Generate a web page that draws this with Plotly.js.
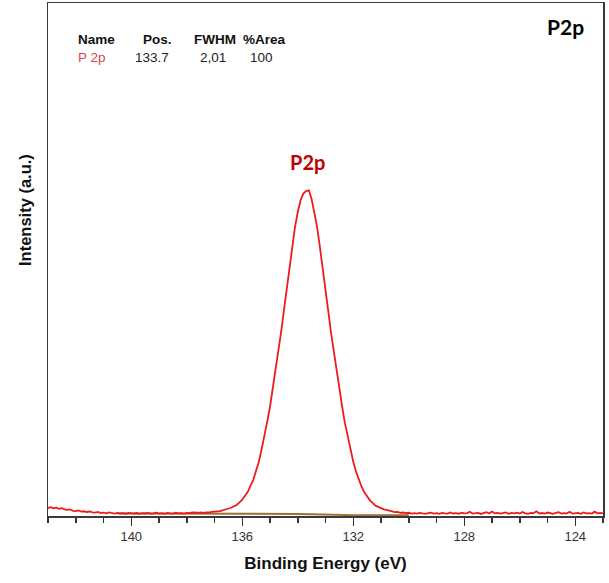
<!DOCTYPE html>
<html>
<head>
<meta charset="utf-8">
<script src="https://cdn.plot.ly/plotly-3.0.1.min.js"></script>
<style>html,body{margin:0;padding:0;background:#fff;}#chart{width:609px;height:583px;}</style>
</head>
<body>
<div id="chart"></div>
<script>
// Binding energy grid (eV)
const bindingEnergy = [
143.0,142.9,142.8,142.7,142.6,142.5,142.4,142.3,142.2,142.1,
142.0,141.9,141.8,141.7,141.6,141.5,141.4,141.3,141.2,141.1,
141.0,140.9,140.8,140.7,140.6,140.5,140.4,140.3,140.2,140.1,
140.0,139.9,139.8,139.7,139.6,139.5,139.4,139.3,139.2,139.1,
139.0,138.9,138.8,138.7,138.6,138.5,138.4,138.3,138.2,138.1,
138.0,137.9,137.8,137.7,137.6,137.5,137.4,137.3,137.2,137.1,
137.0,136.9,136.8,136.7,136.6,136.5,136.4,136.3,136.2,136.1,
136.0,135.9,135.8,135.7,135.6,135.5,135.4,135.3,135.2,135.1,
135.0,134.9,134.8,134.7,134.6,134.5,134.4,134.3,134.2,134.1,
134.0,133.9,133.8,133.7,133.6,133.5,133.4,133.3,133.2,133.1,
133.0,132.9,132.8,132.7,132.6,132.5,132.4,132.3,132.2,132.1,
132.0,131.9,131.8,131.7,131.6,131.5,131.4,131.3,131.2,131.1,
131.0,130.9,130.8,130.7,130.6,130.5,130.4,130.3,130.2,130.1,
130.0,129.9,129.8,129.7,129.6,129.5,129.4,129.3,129.2,129.1,
129.0,128.9,128.8,128.7,128.6,128.5,128.4,128.3,128.2,128.1,
128.0,127.9,127.8,127.7,127.6,127.5,127.4,127.3,127.2,127.1,
127.0,126.9,126.8,126.7,126.6,126.5,126.4,126.3,126.2,126.1,
126.0,125.9,125.8,125.7,125.6,125.5,125.4,125.3,125.2,125.1,
125.0,124.9,124.8,124.7,124.6,124.5,124.4,124.3,124.2,124.1,
124.0,123.9,123.8,123.7,123.6,123.5,123.4,123.3,123.2,123.1,
123.0
];
// Measured intensity (a.u.)
const intensity = [
1.55,1.72,1.48,1.63,1.38,1.52,1.29,1.18,1.27,1.02,
0.95,1.08,0.86,0.92,0.78,0.88,0.71,0.66,0.79,0.58,
0.64,0.52,0.69,0.55,0.48,0.61,0.50,0.57,0.44,0.62,
0.53,0.47,0.58,0.42,0.55,0.49,0.60,0.45,0.52,0.66,
0.48,0.56,0.43,0.59,0.51,0.47,0.63,0.50,0.57,0.46,
0.61,0.55,0.68,0.58,0.63,0.71,0.62,0.72,0.68,0.80,
0.79,0.90,0.93,1.10,1.20,1.45,1.60,1.90,2.15,2.66,
3.18,3.95,4.72,5.90,7.10,8.85,10.60,13.05,15.45,18.40,
21.30,24.80,28.20,32.10,35.85,40.05,44.20,48.55,52.50,56.30,
59.20,61.55,62.85,63.35,63.50,61.75,59.05,56.20,52.35,48.50,
44.05,39.95,35.70,31.85,28.25,24.50,21.30,18.10,15.40,12.80,
10.60,8.65,7.05,5.70,4.62,3.80,3.05,2.55,2.02,1.78,
1.48,1.30,1.18,0.98,0.92,0.75,0.78,0.62,0.68,0.55,
0.63,0.48,0.57,0.45,0.62,0.51,0.43,0.58,0.66,0.47,
0.55,0.41,0.60,0.52,0.46,0.71,0.49,0.57,0.44,0.63,
0.50,0.58,0.82,0.47,0.55,0.62,0.40,0.59,0.73,0.48,
0.88,0.52,0.61,0.45,0.56,0.70,0.43,0.59,0.50,0.64,
0.47,0.78,0.52,0.44,0.62,0.55,0.91,0.49,0.58,0.46,
0.67,0.53,0.42,0.60,0.74,0.48,0.57,0.51,0.83,0.46,
0.59,0.62,0.44,0.71,0.50,0.56,0.47,0.85,0.53,0.60,
0.49
];
// Shirley background over the fit region
const backgroundEnergy = [140.5,137.0,136.0,135.0,134.5,134.0,133.5,133.0,132.5,132.0,131.0,130.0];
const backgroundValue  = [0.50,0.50,0.49,0.47,0.44,0.40,0.33,0.26,0.20,0.17,0.15,0.15];

// Peak table
const tableHeaders = ["Name","Pos.","FWHM","%Area"];
const tableRow = ["P 2p","133.7","2,01","100"];
const peakLabel = "P2p";
const panelTitle = "P2p";

const W = 609, H = 583;
const M = {l: 48, r: 6, t: 3, b: 67};
const pw = W - M.l - M.r, ph = H - M.t - M.b;
const px = v => (v - M.l) / pw;
const py = v => (H - M.b - v) / ph;

const arial = "Liberation Sans, Arial, sans-serif";

const traces = [
  {x: backgroundEnergy, y: backgroundValue, type: 'scatter', mode: 'lines',
   line: {color: 'rgb(160,110,50)', width: 2}, hoverinfo: 'skip', showlegend: false},
  {x: bindingEnergy, y: intensity, type: 'scatter', mode: 'lines',
   line: {color: 'rgb(236,28,28)', width: 1.8}, showlegend: false}
];

// peak label position from data
let imax = 0;
intensity.forEach((v, i) => { if (v > intensity[imax]) imax = i; });

const headerX = [76, 141, 192, 241];
const rowX = [76, 133, 198, 248];
const annotations = [];
tableHeaders.forEach((t, i) => annotations.push({
  text: '<b>' + t + '</b>', xref: 'paper', yref: 'paper', x: px(headerX[i]), y: py(39),
  xanchor: 'left', yanchor: 'middle', showarrow: false,
  font: {family: arial, size: 13.5, color: '#111'}
}));
tableRow.forEach((t, i) => annotations.push({
  text: t, xref: 'paper', yref: 'paper', x: px(rowX[i]), y: py(57.5),
  xanchor: 'left', yanchor: 'middle', showarrow: false,
  font: {family: arial, size: 13.5, color: i === 0 ? 'rgb(214,72,72)' : '#222'}
}));
annotations.push({
  text: '<b>' + panelTitle + '</b>', xref: 'paper', yref: 'paper', x: px(565), y: py(26),
  xanchor: 'center', yanchor: 'middle', showarrow: false,
  font: {family: 'Lato, Open Sans, sans-serif', size: 21, color: '#000'}
});
annotations.push({
  text: '<b>' + peakLabel + '</b>', xref: 'x', yref: 'paper', x: bindingEnergy[imax] + 0.05, y: py(162),
  xanchor: 'center', yanchor: 'middle', showarrow: false,
  font: {family: 'Lato, Open Sans, sans-serif', size: 20, color: 'rgb(192,0,0)'}
});
annotations.push({
  text: '<b>Intensity (a.u.)</b>', xref: 'paper', yref: 'paper', x: px(25), y: py(210),
  xanchor: 'center', yanchor: 'middle', textangle: -90, showarrow: false,
  font: {family: arial, size: 16.5, color: '#111'}
});

const layout = {
  width: W, height: H,
  margin: M,
  paper_bgcolor: '#fff', plot_bgcolor: '#fff',
  showlegend: false,
  xaxis: {
    range: [143, 123], autorange: false,
    tick0: 124, dtick: 4, ticks: 'outside', ticklen: 8, tickwidth: 1.5, tickcolor: '#333',
    minor: {dtick: 1, tick0: 124, ticks: 'outside', ticklen: 5, tickwidth: 1.5, tickcolor: '#333'},
    showline: true, linecolor: '#3a3a3a', linewidth: 1.5, mirror: true,
    showgrid: false, zeroline: false,
    tickfont: {family: arial, size: 13, color: '#333'},
    title: {text: '<b>Binding Energy (eV)</b>', standoff: 14, font: {family: arial, size: 17, color: '#111'}}
  },
  yaxis: {
    range: [0, 100], autorange: false,
    showticklabels: false, ticks: '', showgrid: false, zeroline: false,
    showline: true, linecolor: '#3a3a3a', linewidth: 1.5, mirror: true
  },
  annotations: annotations
};

Plotly.newPlot('chart', traces, layout, {displayModeBar: false, staticPlot: true});
</script>
</body>
</html>
